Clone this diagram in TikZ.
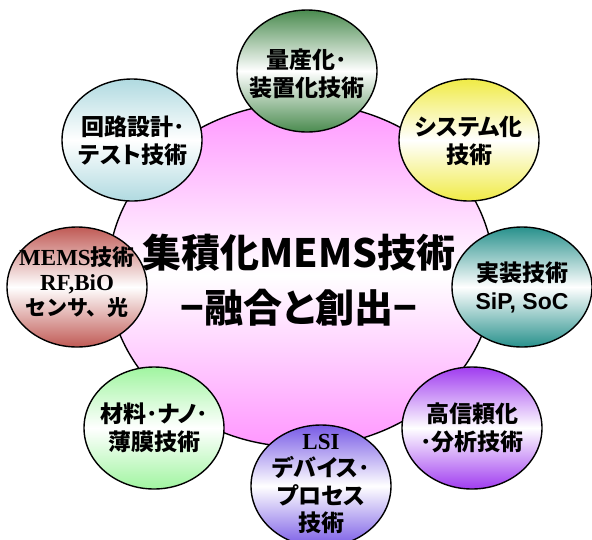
\documentclass[tikz,border=0pt]{standalone}
\usepackage{fontspec}
\setmainfont{Liberation Serif}
\newfontfamily\jp[RawFeature=+palt]{Noto Sans CJK JP Black}
\newfontfamily\jpfull{Noto Sans CJK JP Black}
\newfontfamily\arial{Liberation Sans}
\usetikzlibrary{positioning}

\definecolor{mainpink}{RGB}{255,150,255}
\definecolor{massgreen}{RGB}{74,139,79}
\definecolor{circuitblue}{RGB}{176,218,224}
\definecolor{sysyellow}{RGB}{240,235,70}
\definecolor{memsred}{RGB}{192,90,85}
\definecolor{mountteal}{RGB}{40,145,140}
\definecolor{matgreen}{RGB}{160,245,160}
\definecolor{relpurple}{RGB}{160,60,240}
\definecolor{lsiviolet}{RGB}{120,90,230}

\tikzset{
    bubble/.style={draw=black, line width=1.4pt, top color=#1, bottom color=#1, middle color=white},
    bubbletext/.style={align=center, inner sep=0pt, font=\jp\fontsize{23}{28}\selectfont},
    maintext/.style={align=center, inner sep=0pt, font=\jp\fontsize{39}{55}\selectfont}
}

\begin{document}
\begin{tikzpicture}[x=1pt,y=-1pt]
    \useasboundingbox (0,0) rectangle (592,539);

    \path[bubble=mainpink] (301,275) ellipse [x radius=193, y radius=172];

    \path[bubble=massgreen] (307,71) ellipse [x radius=70, y radius=61];
    \path[bubble=circuitblue] (132,140) ellipse [x radius=70, y radius=61];
    \path[bubble=sysyellow] (469,140) ellipse [x radius=70, y radius=61];
    \path[bubble=memsred] (77,287) ellipse [x radius=70, y radius=60];
    \path[bubble=mountteal] (522,287) ellipse [x radius=70, y radius=60];
    \path[bubble=matgreen] (154,428) ellipse [x radius=70, y radius=61];
    \path[bubble=relpurple] (472,428) ellipse [x radius=70, y radius=61];
    \path[bubble=lsiviolet] (321,486) ellipse [x radius=70, y radius=61];

    \node[maintext] (core) at (299,280) {集積化MEMS技術\\−融合と創出−};

    \node[bubbletext] (mass) at (307,74) {量産化･\\装置化技術};
    \node[bubbletext] (circuit) at (133,141) {回路設計･\\テスト技術};
    \node[bubbletext] (system) at (469,141) {システム化\\技術};
    \node[bubbletext, font=\jp\fontsize{22}{25}\selectfont] (mems) at (77,282)
        {{\rmfamily\bfseries\fontsize{23}{25}\selectfont MEMS}技術\\{\rmfamily\bfseries\fontsize{23}{25}\selectfont RF,BiO}\\{\jpfull\fontsize{21}{25}\selectfont センサ、光}};
    \node[bubbletext] (mount) at (522,287) {実装技術\\{\arial\bfseries SiP, SoC}};
    \node[bubbletext] (material) at (154,428) {材料･ナノ･\\薄膜技術};
    \node[bubbletext] (reliab) at (472,428) {高信頼化\\･分析技術};
    \node[bubbletext, font=\jp\fontsize{23}{27.5}\selectfont] (lsi) at (321,484)
        {{\rmfamily\bfseries LSI}\\デバイス･\\プロセス\\技術};
\end{tikzpicture}
\end{document}
